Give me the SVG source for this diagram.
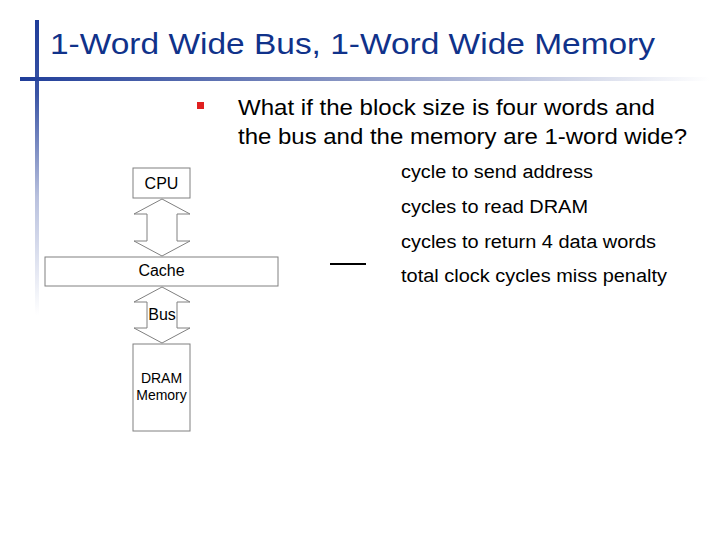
<svg xmlns="http://www.w3.org/2000/svg" width="720" height="540" viewBox="0 0 720 540">
<defs>
<linearGradient id="hg" x1="0" x2="1" y1="0" y2="0"><stop offset="0" stop-color="#1f3d99"/><stop offset="0.5" stop-color="#8f9bc6"/><stop offset="1" stop-color="#ffffff"/></linearGradient>
<linearGradient id="vg" x1="0" x2="0" y1="0" y2="1"><stop offset="0" stop-color="#1f3d99"/><stop offset="0.25" stop-color="#3a54a5"/><stop offset="0.6" stop-color="#b9c1de"/><stop offset="1" stop-color="#ffffff"/></linearGradient>
</defs>
<style>
.box{fill:#fff;stroke:#808080;stroke-width:1}
.t{font-family:"Liberation Sans",Arial,sans-serif;fill:#000}
</style>
<rect width="720" height="540" fill="#fff"/>
<rect x="35" y="20" width="4" height="295" fill="url(#vg)"/>
<rect x="20" y="77" width="690" height="4" fill="url(#hg)"/>
<text x="50" y="54" class="t" font-size="30" style="fill:#10328a" textLength="605" lengthAdjust="spacingAndGlyphs">1-Word Wide Bus, 1-Word Wide Memory</text>
<rect x="197" y="102" width="7" height="7" fill="#e02020"/>
<text class="t" font-size="22" x="238" y="115" textLength="417" lengthAdjust="spacingAndGlyphs">What if the block size is four words and</text>
<text class="t" font-size="22" x="238" y="144" textLength="449" lengthAdjust="spacingAndGlyphs">the bus and the memory are 1-word wide?</text>
<text class="t" font-size="18" x="401" y="178" textLength="192" lengthAdjust="spacingAndGlyphs">cycle to send address</text>
<text class="t" font-size="18" x="401" y="213" textLength="187" lengthAdjust="spacingAndGlyphs">cycles to read DRAM</text>
<text class="t" font-size="18" x="401" y="248" textLength="255" lengthAdjust="spacingAndGlyphs">cycles to return 4 data words</text>
<text class="t" font-size="18" x="401" y="282" textLength="266" lengthAdjust="spacingAndGlyphs">total clock cycles miss penalty</text>
<line x1="330" y1="264" x2="366" y2="264" stroke="#000" stroke-width="2"/>
<g id="connectors">
<polygon class="box" points="162,199 190,214 177,214 177,241 190,241 162,256 134,241 147,241 147,214 134,214"/>
<polygon class="box" points="162,287 190,302 177,302 177,328 190,328 162,343 134,328 147,328 147,302 134,302"/>
<text class="t" font-size="16" x="162" y="320" text-anchor="middle">Bus</text>
</g>
<g id="cpu"><rect class="box" x="133" y="168" width="57" height="30"/><text class="t" font-size="16" x="161.5" y="189" text-anchor="middle">CPU</text></g>
<g id="cache"><rect class="box" x="45" y="257" width="233" height="29"/><text class="t" font-size="16" x="161.5" y="276" text-anchor="middle">Cache</text></g>
<g id="dram"><rect class="box" x="133" y="344" width="57" height="87"/><text class="t" font-size="14" x="161.5" y="383" text-anchor="middle">DRAM</text><text class="t" font-size="14" x="161.5" y="400" text-anchor="middle">Memory</text></g>
</svg>
